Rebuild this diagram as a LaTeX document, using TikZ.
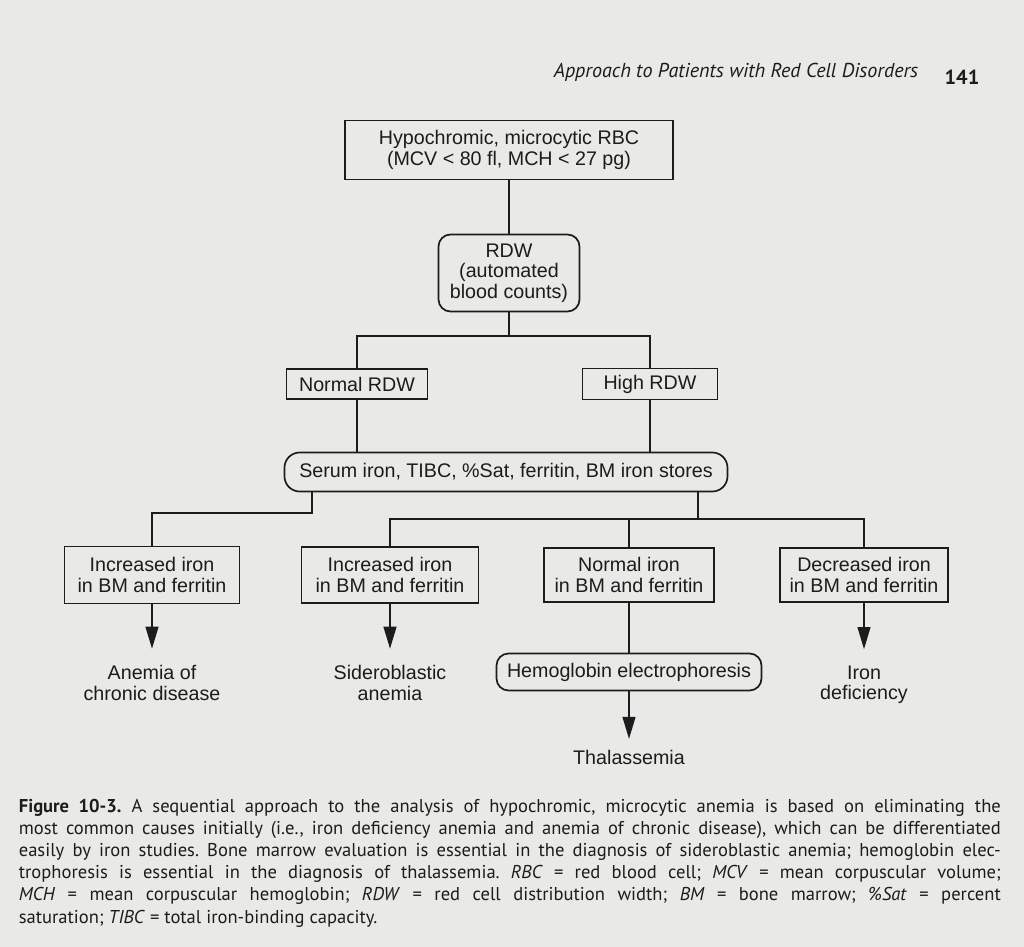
\documentclass[tikz,border=0pt]{standalone}
\usepackage{fontspec}
\setmainfont{Liberation Sans}
\newfontfamily\capfont{PT Sans}
\usetikzlibrary{arrows.meta}

\definecolor{page}{RGB}{233,233,231}
\definecolor{ink}{RGB}{28,28,28}

\tikzstyle{box} = [rectangle, draw=ink, line width=1.2pt, align=center, inner sep=2pt, font=\fontsize{14}{14.5}\selectfont]
\tikzstyle{roundbox} = [box, rounded corners=0.3cm]
\tikzstyle{outcome} = [align=center, inner sep=0pt, font=\fontsize{14}{14.5}\selectfont]
\tikzstyle{arr} = [-{Triangle[length=0.55cm,width=0.32cm]}]

\begin{document}
\frenchspacing
\begin{tikzpicture}[-,auto,node distance=2.65cm,line width=1.2pt,color=ink]
\fill[page] (0,0) rectangle (25.6,-23.675);
\useasboundingbox (0,0) rectangle (25.6,-23.675);

% running head
\node[font=\capfont\itshape\fontsize{14.3}{16}\selectfont] (Head) at (18.4,-1.8) {Approach to Patients with Red Cell Disorders};
\node[font=\capfont\bfseries\fontsize{14.5}{16}\selectfont] (PageNo) at (24.05,-1.925) {141};

% flow chart
\node[box, minimum width=8.2cm, minimum height=1.475cm] (RBC) at (12.725,-3.75) {Hypochromic, microcytic RBC\\(MCV < 80 fl, MCH < 27 pg)};
\node[roundbox, minimum width=3.525cm, minimum height=1.925cm] (RDW) [below of=RBC, node distance=3.075cm] {RDW\\(automated\\blood counts)};

\node[box, minimum width=3.525cm, minimum height=0.75cm] (Normal) [below of=RDW, node distance=2.775cm, xshift=-3.8cm] {Normal RDW};
\node[box, minimum width=3.375cm, minimum height=0.775cm] (High) [below of=RDW, node distance=2.775cm, xshift=3.525cm] {High RDW};

\node[roundbox, rounded corners=0.38cm, minimum width=11.075cm, minimum height=0.975cm] (Serum) [below of=RDW, node distance=4.975cm, xshift=-0.075cm] {Serum iron, TIBC, \%Sat, ferritin, BM iron stores};

\node[box, minimum width=4.375cm, minimum height=1.425cm] (IncA) [below of=Serum, node distance=2.575cm, xshift=-8.85cm] {Increased iron\\in BM and ferritin};
\node[box, minimum width=4.425cm, minimum height=1.4cm] (IncS) [below of=Serum, node distance=2.575cm, xshift=-2.9cm] {Increased iron\\in BM and ferritin};
\node[box, minimum width=4.25cm, minimum height=1.35cm] (Norm) [below of=Serum, node distance=2.575cm, xshift=3.075cm] {Normal iron\\in BM and ferritin};
\node[box, minimum width=4.2cm, minimum height=1.35cm] (Dec) [below of=Serum, node distance=2.575cm, xshift=8.95cm] {Decreased iron\\in BM and ferritin};

\node[outcome] (Chronic) [below of=IncA, node distance=2.7cm] {Anemia of\\chronic disease};
\node[outcome] (Sidero) [below of=IncS, node distance=2.7cm] {Sideroblastic\\anemia};
\node[roundbox, minimum width=6.625cm, minimum height=0.925cm] (Hb) [below of=Norm, node distance=2.425cm] {Hemoglobin electrophoresis};
\node[outcome] (Thal) [below of=Hb, node distance=2.125cm] {Thalassemia};
\node[outcome] (IronDef) [below of=Dec, node distance=2.75cm] {Iron\\deficiency};

% caption
\node[anchor=north west, inner sep=0pt, text width=24.55cm, align=justify, font=\capfont\fontsize{13.2}{15.8}\selectfont] (Caption) at (0.45,-19.95) {\textbf{Figure 10-3.} A sequential approach to the analysis of hypochromic, microcytic anemia is based on eliminating the\linebreak
most common causes initially (i.e., iron deficiency anemia and anemia of chronic disease), which can be differentiated\linebreak
easily by iron studies. Bone marrow evaluation is essential in the diagnosis of sideroblastic anemia; hemoglobin elec-\linebreak
trophoresis is essential in the diagnosis of thalassemia. \textit{RBC} = red blood cell; \textit{MCV} = mean corpuscular volume;\linebreak
\textit{MCH} = mean corpuscular hemoglobin; \textit{RDW} = red cell distribution width; \textit{BM} = bone marrow; \textit{\%Sat} = percent\linebreak
saturation; \textit{TIBC} = total iron-binding capacity.};

% connectors
\coordinate (RDWfork) at ([yshift=-0.59cm]RDW.south);
\coordinate (LeftDrop) at ([xshift=-4.85cm]Serum.south);
\coordinate (RightDrop) at ([xshift=4.8cm]Serum.south);
\coordinate (IronBar) at ([yshift=-0.66cm]RightDrop);

\draw (RBC) -- (RDW);
\draw (RDW.south) -- (RDWfork) -| (Normal.north);
\draw (RDWfork) -| (High.north);
\draw (Normal.south) -- (Normal.south |- Serum.north);
\draw (High.south) -- (High.south |- Serum.north);
\draw (LeftDrop) -- ++(0,-0.52) -| (IncA.north);
\draw (RightDrop) -- (IronBar);
\draw (IncS.north) |- (IronBar) -| (Dec.north);
\draw (Norm.north) -- (Norm.north |- IronBar);

\draw[arr, shorten >=0.4cm] (IncA) -- (Chronic);
\draw[arr, shorten >=0.4cm] (IncS) -- (Sidero);
\draw (Norm) -- (Hb);
\draw[arr, shorten >=0.25cm] (Hb) -- (Thal);
\draw[arr, shorten >=0.4cm] (Dec) -- (IronDef);

\end{tikzpicture}
\end{document}
